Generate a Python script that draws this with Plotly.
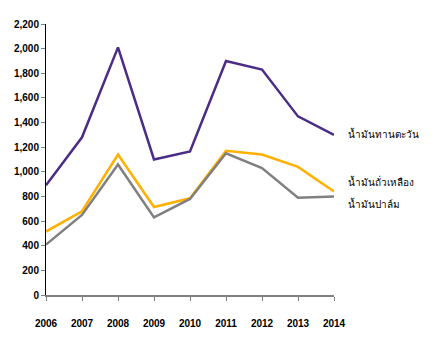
import plotly.graph_objects as go

years = [2006, 2007, 2008, 2009, 2010, 2011, 2012, 2013, 2014]
sunflower = [890, 1280, 2010, 1100, 1165, 1900, 1830, 1450, 1300]
soybean = [515, 680, 1140, 714, 785, 1170, 1140, 1040, 840]
palm = [410, 650, 1060, 630, 780, 1150, 1030, 790, 800]

names = ["น้ำมันทานตะวัน", "น้ำมันถั่วเหลือง", "น้ำมันปาล์ม"]
series = [sunflower, soybean, palm]
colors = ["#4B2C86", "#FFB000", "#808080"]
label_y = [1310, 920, 740]

fig = go.Figure()
for name, vals, col in zip(names, series, colors):
    fig.add_trace(go.Scatter(x=years, y=vals, mode="lines", name=name,
                             line=dict(color=col, width=2.5)))

# series names placed beside the last point of each line
for name, ly in zip(names, label_y):
    fig.add_annotation(x=years[-1], y=ly, text=name, xref="x", yref="y",
                       xanchor="left", yanchor="middle", xshift=12,
                       showarrow=False,
                       font=dict(family="Noto Sans, Tahoma, sans-serif", size=10, color="#000"))

fig.update_layout(
    width=438, height=342,
    margin=dict(l=46, r=104, t=24, b=47),
    paper_bgcolor="white", plot_bgcolor="white",
    showlegend=False,
    font=dict(family="Arial, Liberation Sans, sans-serif", size=10, color="#000"),
)
fig.update_xaxes(range=[2006, 2014], tickvals=years, ticktext=[str(y) for y in years],
                 showgrid=False, zeroline=False, showline=True, linecolor="#808080",
                 linewidth=2, ticks="outside", ticklen=4, tickcolor="#808080",
                 ticklabelstandoff=14, tickfont=dict(size=10, weight="bold"))
fig.update_yaxes(range=[0, 2200], dtick=200, tickformat=",d",
                 showgrid=False, zeroline=False, showline=True, linecolor="#000",
                 linewidth=1, ticks="outside", ticklen=4, tickcolor="#808080",
                 tickfont=dict(size=10, weight="bold"))

fig.write_html("out.html")
